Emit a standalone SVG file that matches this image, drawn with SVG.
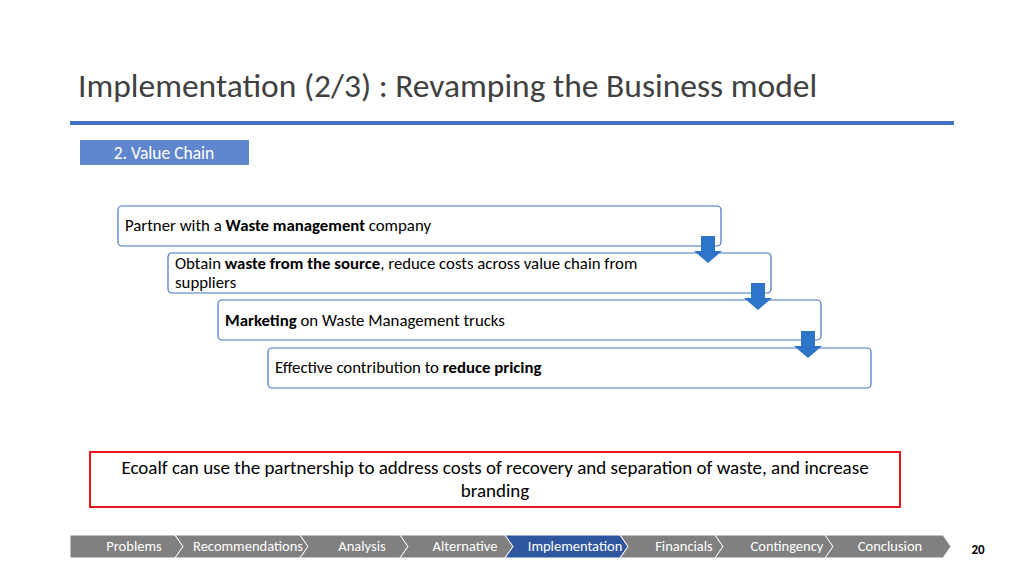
<svg xmlns="http://www.w3.org/2000/svg" width="1024" height="576" viewBox="0 0 1024 576">
<style>
text{font-family:Calibri,Carlito,"Liberation Sans",Arial,sans-serif;fill:#000}
.box{fill:#fff;stroke:#4472c4;stroke-width:1.2}
.t{font-size:16.8px}
.nav{font-size:14.5px;fill:#fff}
.seg{fill:#808080;stroke:#fff;stroke-width:1}
.arr{fill:#2e75c9}
</style>
<rect width="1024" height="576" fill="#fff"/>
<text x="78" y="97" font-size="33.5" style="fill:#404040">Implementation (2/3) : Revamping the Business model</text>
<rect x="70" y="121" width="884" height="4" fill="#4472c4"/>
<g id="tag"><rect x="80" y="140" width="169" height="25" fill="#4472c4" opacity="0.85"/><text x="164" y="159" font-size="17.5" text-anchor="middle" style="fill:#fff">2. Value Chain</text></g>
<g id="n1"><rect class="box" x="118" y="206" width="603" height="40" rx="4"/><text class="t" x="125" y="231">Partner with a <tspan font-weight="bold">Waste management</tspan> company</text></g>
<g id="n2"><rect class="box" x="168" y="253" width="603" height="40" rx="4"/><text class="t" x="175" y="269">Obtain <tspan font-weight="bold">waste from the source</tspan>, reduce costs across value chain from</text><text class="t" x="175" y="288">suppliers</text></g>
<g id="n3"><rect class="box" x="218" y="300" width="603" height="40" rx="4"/><text class="t" x="225" y="326"><tspan font-weight="bold">Marketing</tspan> on Waste Management trucks</text></g>
<g id="n4"><rect class="box" x="268" y="348" width="603" height="40" rx="4"/><text class="t" x="275" y="373">Effective contribution to <tspan font-weight="bold">reduce pricing</tspan></text></g>
<g id="connectors">
<path class="arr" d="M701,236h14v15h7l-14,12l-14,-12h7z"/>
<path class="arr" d="M751,283h14v15h7l-14,12l-14,-12h7z"/>
<path class="arr" d="M801,331h14v15h7l-14,12l-14,-12h7z"/>
</g>
<g id="note"><rect x="90" y="452" width="810" height="55" fill="#fff" stroke="#e8141c" stroke-width="2"/><text x="495" y="474" font-size="19" text-anchor="middle">Ecoalf can use the partnership to address costs of recovery and separation of waste, and increase</text><text x="495" y="497" font-size="19" text-anchor="middle">branding</text></g>
<g id="nav">
<path class="seg" d="M70,535h105l8,11.5l-8,11.5h-105z"/>
<path class="seg" d="M175,535h125l8,11.5l-8,11.5h-125l8,-11.5z"/>
<path class="seg" d="M300,535h100l8,11.5l-8,11.5h-100l8,-11.5z"/>
<path class="seg" d="M400,535h105l8,11.5l-8,11.5h-105l8,-11.5z"/>
<path d="M505,535h115l8,11.5l-8,11.5h-115l8,-11.5z" fill="#2f57a0" stroke="#fff"/>
<path class="seg" d="M620,535h95l8,11.5l-8,11.5h-95l8,-11.5z"/>
<path class="seg" d="M715,535h110l8,11.5l-8,11.5h-110l8,-11.5z"/>
<path class="seg" d="M825,535h118l8,11.5l-8,11.5h-118l8,-11.5z"/>
<text class="nav" x="134" y="551" text-anchor="middle" style="fill:#fff">Problems</text>
<text class="nav" x="248" y="551" text-anchor="middle" style="fill:#fff">Recommendations</text>
<text class="nav" x="362" y="551" text-anchor="middle" style="fill:#fff">Analysis</text>
<text class="nav" x="465" y="551" text-anchor="middle" style="fill:#fff">Alternative</text>
<text class="nav" x="575" y="551" text-anchor="middle" style="fill:#fff">Implementation</text>
<text class="nav" x="684" y="551" text-anchor="middle" style="fill:#fff">Financials</text>
<text class="nav" x="787" y="551" text-anchor="middle" style="fill:#fff">Contingency</text>
<text class="nav" x="890" y="551" text-anchor="middle" style="fill:#fff">Conclusion</text>
</g>
<text x="978" y="554" font-size="13" font-weight="bold" text-anchor="middle">20</text>
</svg>
